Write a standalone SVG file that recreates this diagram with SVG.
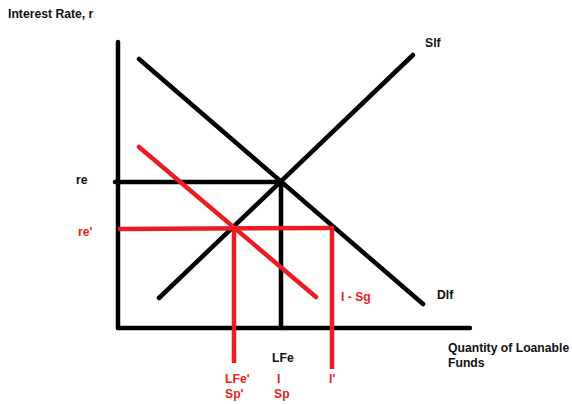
<svg xmlns="http://www.w3.org/2000/svg" width="572" height="404" viewBox="0 0 572 404">
<style>
.k{stroke:#000;stroke-width:4.5;fill:none;stroke-linecap:round}
.r{stroke:#ed1c24;stroke-width:4.5;fill:none;stroke-linecap:butt}
text{font-family:"Liberation Sans",Arial,sans-serif;font-weight:bold;font-size:12.2px;fill:#111}
.rt{fill:#ed1c24}
</style>
<rect width="572" height="404" fill="#fff"/>
<g id="connectors">
<line class="k" x1="118" y1="42" x2="118" y2="328"/>
<line class="k" x1="118" y1="328" x2="470" y2="328"/>
<line class="k" x1="139" y1="59" x2="423" y2="304"/>
<line class="k" x1="159" y1="298" x2="413" y2="55"/>
<line class="k" x1="115" y1="182" x2="281" y2="182"/>
<line class="k" x1="281" y1="182" x2="281" y2="328"/>
<line class="r" x1="139" y1="147" x2="316" y2="297" style="stroke-linecap:round"/>
<line class="r" x1="118" y1="229" x2="334" y2="228"/>
<line class="r" x1="234" y1="229" x2="234" y2="363"/>
<line class="r" x1="332" y1="228" x2="332" y2="369"/>
</g>
<g id="axis-y-label"><text x="8" y="18">Interest Rate, r</text></g>
<g id="axis-x-label"><text x="448" y="352">Quantity of Loanable</text><text x="448" y="367">Funds</text></g>
<g id="slf"><text x="425" y="47">Slf</text></g>
<g id="dlf"><text x="437" y="299">Dlf</text></g>
<g id="isg"><text class="rt" x="341" y="301">I - Sg</text></g>
<g id="re"><text x="76" y="184">re</text></g>
<g id="re2"><text class="rt" x="78" y="236">re'</text></g>
<g id="lfe"><text x="272" y="362">LFe</text></g>
<g id="lfe2"><text class="rt" x="225" y="383">LFe'</text><text class="rt" x="225" y="398">Sp'</text></g>
<g id="i"><text class="rt" x="277" y="383">I</text><text class="rt" x="274" y="398">Sp</text></g>
<g id="i2"><text class="rt" x="329" y="383">I'</text></g>
</svg>
